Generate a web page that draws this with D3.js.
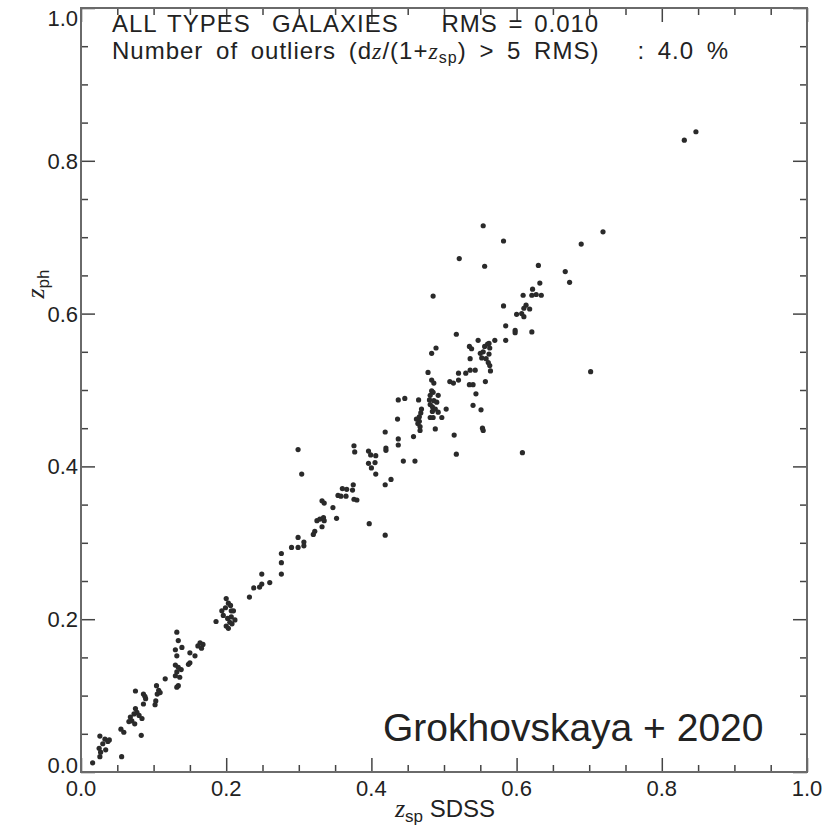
<!DOCTYPE html>
<html><head><meta charset="utf-8">
<script src="https://cdn.jsdelivr.net/npm/d3@7"></script>
<style>
body{margin:0;background:#fff}
text{font-family:"Liberation Sans",Arial,Helvetica,sans-serif;fill:#222}
.it{font-family:"Liberation Serif","Times New Roman",serif;font-style:italic}
</style>
</head><body>
<svg id="chart" width="834" height="825"></svg>
<script>
// spectroscopic redshift (SDSS)
const zsp = [0.016,0.056,0.026,0.030,0.025,0.027,0.026,0.033,0.037,0.039,0.034,0.055,0.059,0.075,0.068,0.073,0.077,0.075,0.080,0.070,0.074,0.084,0.066,0.083,0.086,0.089,0.086,0.088,0.104,0.107,0.105,0.103,0.102,0.109,0.116,0.132,0.134,0.139,0.130,0.132,0.130,0.134,0.132,0.130,0.136,0.134,0.132,0.138,0.150,0.150,0.148,0.157,0.164,0.168,0.166,0.161,0.186,0.194,0.196,0.200,0.203,0.199,0.202,0.200,0.205,0.207,0.207,0.203,0.208,0.210,0.212,0.206,0.232,0.238,0.246,0.249,0.260,0.249,0.276,0.276,0.276,0.290,0.299,0.299,0.307,0.307,0.320,0.322,0.332,0.325,0.329,0.334,0.335,0.352,0.347,0.332,0.335,0.354,0.358,0.365,0.360,0.366,0.374,0.375,0.376,0.380,0.299,0.304,0.376,0.377,0.396,0.399,0.406,0.396,0.405,0.400,0.406,0.397,0.419,0.419,0.427,0.419,0.420,0.420,0.436,0.437,0.437,0.517,0.608,0.444,0.460,0.437,0.446,0.458,0.465,0.462,0.466,0.468,0.469,0.466,0.467,0.467,0.464,0.478,0.483,0.486,0.483,0.485,0.481,0.492,0.480,0.486,0.490,0.481,0.484,0.488,0.492,0.484,0.481,0.485,0.497,0.503,0.488,0.483,0.489,0.517,0.514,0.508,0.513,0.520,0.520,0.530,0.536,0.543,0.535,0.540,0.544,0.540,0.551,0.553,0.554,0.557,0.536,0.538,0.535,0.547,0.550,0.554,0.556,0.560,0.562,0.563,0.558,0.561,0.563,0.562,0.564,0.552,0.570,0.585,0.598,0.554,0.582,0.719,0.689,0.521,0.556,0.630,0.667,0.673,0.632,0.622,0.609,0.621,0.627,0.634,0.613,0.610,0.618,0.582,0.600,0.607,0.610,0.585,0.598,0.621,0.702,0.485,0.831,0.847];
// photometric redshift
const zph = [0.012,0.020,0.047,0.037,0.031,0.026,0.020,0.043,0.040,0.042,0.029,0.056,0.052,0.106,0.072,0.076,0.078,0.083,0.074,0.067,0.063,0.070,0.066,0.048,0.102,0.096,0.089,0.099,0.113,0.107,0.102,0.093,0.088,0.104,0.122,0.183,0.172,0.163,0.160,0.152,0.140,0.137,0.131,0.126,0.124,0.113,0.111,0.134,0.156,0.143,0.141,0.152,0.169,0.167,0.162,0.165,0.197,0.211,0.205,0.227,0.221,0.215,0.201,0.191,0.196,0.211,0.203,0.188,0.194,0.211,0.199,0.218,0.229,0.241,0.242,0.246,0.248,0.259,0.259,0.274,0.286,0.294,0.294,0.307,0.301,0.296,0.311,0.315,0.321,0.329,0.331,0.333,0.329,0.332,0.346,0.355,0.352,0.362,0.361,0.361,0.371,0.370,0.369,0.376,0.357,0.356,0.422,0.390,0.427,0.419,0.420,0.415,0.414,0.404,0.405,0.398,0.390,0.325,0.310,0.376,0.383,0.445,0.424,0.421,0.462,0.436,0.428,0.416,0.418,0.407,0.407,0.487,0.489,0.439,0.487,0.462,0.465,0.470,0.475,0.459,0.452,0.447,0.456,0.523,0.513,0.509,0.499,0.497,0.493,0.493,0.487,0.486,0.484,0.481,0.478,0.475,0.471,0.472,0.464,0.464,0.464,0.475,0.449,0.548,0.555,0.573,0.441,0.511,0.509,0.522,0.513,0.522,0.526,0.526,0.507,0.507,0.495,0.480,0.474,0.450,0.447,0.511,0.541,0.554,0.557,0.565,0.548,0.550,0.557,0.560,0.561,0.555,0.541,0.536,0.532,0.547,0.525,0.542,0.565,0.565,0.575,0.715,0.695,0.707,0.691,0.672,0.662,0.663,0.655,0.641,0.640,0.632,0.624,0.624,0.625,0.624,0.611,0.607,0.606,0.610,0.599,0.600,0.596,0.584,0.578,0.576,0.524,0.623,0.827,0.838];

const majorTicks = [0, 0.2, 0.4, 0.6, 0.8, 1.0];
const tickLabels = ["0.0", "0.2", "0.4", "0.6", "0.8", "1.0"];
const minorTicks = [0.05,0.1,0.15,0.25,0.3,0.35,0.45,0.5,0.55,0.65,0.7,0.75,0.85,0.9,0.95];
const titleLine1 = "ALL TYPES  GALAXIES    RMS = 0.010";
const creditText = "Grokhovskaya + 2020";

const svg = d3.select("#chart");
const L = 81, R = 807, T = 8, B = 772;
const x = d3.scaleLinear().domain([0, 1]).range([L, R]);
const y = d3.scaleLinear().domain([0, 1]).range([B, T]);
const MAJ = 14, MIN = 7;

function styleAxis(g){
  g.select(".domain").remove();
  g.selectAll(".tick line").attr("stroke", "#444").attr("stroke-width", 1.5);
  g.selectAll(".tick text").remove();
}
svg.append("g").attr("transform", `translate(0,${B})`).call(d3.axisBottom(x).tickValues(majorTicks).tickSize(-MAJ)).call(styleAxis);
svg.append("g").attr("transform", `translate(0,${B})`).call(d3.axisBottom(x).tickValues(minorTicks).tickSize(-MIN)).call(styleAxis);
svg.append("g").attr("transform", `translate(0,${T})`).call(d3.axisTop(x).tickValues(majorTicks).tickSize(-MAJ)).call(styleAxis);
svg.append("g").attr("transform", `translate(0,${T})`).call(d3.axisTop(x).tickValues(minorTicks).tickSize(-MIN)).call(styleAxis);
svg.append("g").attr("transform", `translate(${L},0)`).call(d3.axisLeft(y).tickValues(majorTicks).tickSize(-MAJ)).call(styleAxis);
svg.append("g").attr("transform", `translate(${L},0)`).call(d3.axisLeft(y).tickValues(minorTicks).tickSize(-MIN)).call(styleAxis);
svg.append("g").attr("transform", `translate(${R},0)`).call(d3.axisRight(y).tickValues(majorTicks).tickSize(-MAJ)).call(styleAxis);
svg.append("g").attr("transform", `translate(${R},0)`).call(d3.axisRight(y).tickValues(minorTicks).tickSize(-MIN)).call(styleAxis);

svg.append("rect").attr("x", L).attr("y", T).attr("width", R - L).attr("height", B - T)
  .attr("fill", "none").attr("stroke", "#6a6a6a").attr("stroke-width", 2);

// tick labels
svg.append("g").selectAll("text").data(majorTicks).join("text")
  .attr("x", d => x(d)).attr("y", B + 24).attr("text-anchor", "middle")
  .attr("font-size", 22).text((d, i) => tickLabels[i]);
svg.append("g").selectAll("text").data(majorTicks).join("text")
  .attr("x", L - 3).attr("y", d => Math.min(Math.max(y(d) + 8, 26), B + 1)).attr("text-anchor", "end")
  .attr("font-size", 22).text((d, i) => tickLabels[i]);

// axis titles
const xt = svg.append("text").attr("x", 445).attr("y", 817).attr("text-anchor", "middle").attr("font-size", 24);
xt.append("tspan").attr("class", "it").attr("font-size", 26).text("z");
xt.append("tspan").attr("font-size", 17).attr("dy", 5).text("sp");
xt.append("tspan").attr("dy", -5).text(" SDSS");

const yt = svg.append("text").attr("transform", "translate(44,284) rotate(-90)").attr("text-anchor", "middle").attr("font-size", 24);
yt.append("tspan").attr("class", "it").attr("font-size", 26).text("z");
yt.append("tspan").attr("font-size", 17).attr("dy", 5).text("ph");

// annotation lines
svg.append("text").attr("x", 112).attr("y", 32).attr("font-size", 24)
  .attr("letter-spacing", 1).attr("word-spacing", 3).style("white-space", "pre").text(titleLine1);
const t2 = svg.append("text").attr("x", 112).attr("y", 59).attr("font-size", 24)
  .attr("letter-spacing", 1).attr("word-spacing", 5).style("white-space", "pre");
t2.append("tspan").text("Number of outliers (d");
t2.append("tspan").attr("class", "it").text("z");
t2.append("tspan").text("/(1+");
t2.append("tspan").attr("class", "it").text("z");
t2.append("tspan").attr("font-size", 16).attr("dy", 4).text("sp");
t2.append("tspan").attr("dy", -4).text(")\u00a0> 5 RMS)\u00a0\u00a0 : 4.0 %");

svg.append("text").attr("x", 383).attr("y", 741).attr("font-size", 39).text(creditText);

// points
const pts = zsp.map((v, i) => [v, zph[i]]);
svg.append("g").selectAll("circle").data(pts).join("circle")
  .attr("cx", d => x(d[0])).attr("cy", d => y(d[1])).attr("r", 2.6).attr("fill", "#2a2a2a");
</script>
</body></html>
